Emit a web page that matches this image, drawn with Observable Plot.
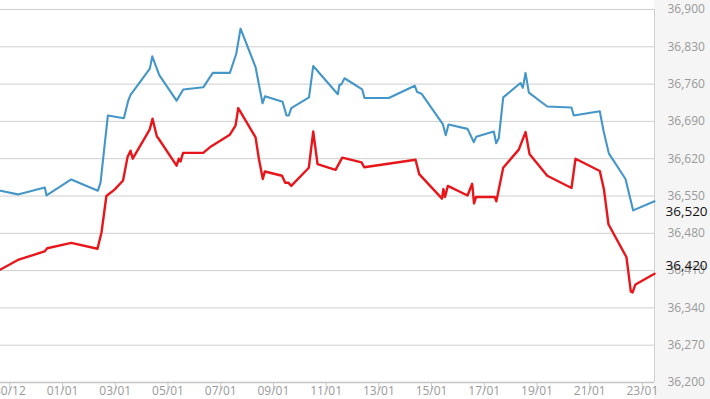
<!DOCTYPE html>
<html>
<head>
<meta charset="utf-8">
<script src="https://cdn.jsdelivr.net/npm/d3@7"></script>
<script src="https://cdn.jsdelivr.net/npm/@observablehq/plot@0.6"></script>
<style>
  html, body { margin: 0; padding: 0; background: #fff; }
  #chart svg { display: block; }
</style>
</head>
<body>
<div id="chart"></div>
<script>
// ---- data ----
const blueTime = ["2023-12-29 15:30","2023-12-30 07:20","2023-12-31 07:50","2023-12-31 09:25","2024-01-01 07:55","2024-01-02 08:10","2024-01-02 10:35","2024-01-02 17:15","2024-01-03 07:50","2024-01-03 11:50","2024-01-03 13:55","2024-01-04 07:30","2024-01-04 09:40","2024-01-04 16:05","2024-01-05 07:50","2024-01-05 13:55","2024-01-06 08:05","2024-01-06 16:50","2024-01-07 08:20","2024-01-07 14:10","2024-01-07 18:05","2024-01-08 07:45","2024-01-08 14:05","2024-01-08 16:20","2024-01-09 08:20","2024-01-09 11:55","2024-01-09 14:00","2024-01-09 16:15","2024-01-10 08:25","2024-01-10 12:15","2024-01-11 10:40","2024-01-11 12:10","2024-01-11 13:45","2024-01-11 16:45","2024-01-12 08:50","2024-01-12 11:00","2024-01-13 09:05","2024-01-14 08:40","2024-01-14 10:55","2024-01-14 14:50","2024-01-15 10:15","2024-01-15 12:55","2024-01-15 15:25","2024-01-16 08:45","2024-01-16 14:30","2024-01-16 16:40","2024-01-17 08:40","2024-01-17 10:50","2024-01-17 13:15","2024-01-17 17:15","2024-01-18 09:00","2024-01-18 11:05","2024-01-18 13:35","2024-01-18 16:35","2024-01-19 09:20","2024-01-20 07:25","2024-01-20 09:30","2024-01-21 09:10","2024-01-21 12:50","2024-01-21 17:25","2024-01-22 08:35","2024-01-22 15:35","2024-01-23 11:00"];
const blueValue = [36560,36553,36566,36551,36581,36560,36575,36701,36696,36729,36740,36789,36812,36777,36729,36750,36754,36781,36781,36817,36864,36792,36724,36737,36727,36701,36701,36715,36735,36794,36741,36759,36759,36771,36750,36734,36734,36757,36745,36742,36685,36664,36684,36676,36651,36661,36671,36649,36659,36735,36762,36753,36781,36744,36718,36716,36701,36709,36670,36630,36582,36523,36540];

const redTime = ["2023-12-29 15:30","2023-12-30 07:20","2023-12-31 07:35","2023-12-31 10:05","2024-01-01 07:55","2024-01-02 07:50","2024-01-02 11:30","2024-01-02 15:55","2024-01-02 23:20","2024-01-03 07:05","2024-01-03 11:10","2024-01-03 13:55","2024-01-03 15:55","2024-01-04 07:25","2024-01-04 09:55","2024-01-04 13:50","2024-01-04 15:40","2024-01-05 07:50","2024-01-05 09:55","2024-01-05 11:25","2024-01-05 13:45","2024-01-06 08:05","2024-01-06 15:10","2024-01-07 08:20","2024-01-07 13:30","2024-01-07 16:00","2024-01-08 07:45","2024-01-08 10:45","2024-01-08 14:20","2024-01-08 16:10","2024-01-09 07:50","2024-01-09 10:45","2024-01-09 13:35","2024-01-09 16:15","2024-01-10 08:15","2024-01-10 12:15","2024-01-10 16:10","2024-01-11 08:35","2024-01-11 14:40","2024-01-12 08:15","2024-01-12 10:40","2024-01-14 09:25","2024-01-14 12:45","2024-01-15 09:30","2024-01-15 10:45","2024-01-15 12:15","2024-01-15 14:50","2024-01-16 08:45","2024-01-16 13:00","2024-01-16 14:40","2024-01-16 16:30","2024-01-17 09:35","2024-01-17 11:00","2024-01-17 17:15","2024-01-18 07:25","2024-01-18 13:35","2024-01-18 17:10","2024-01-19 09:20","2024-01-20 07:25","2024-01-20 11:05","2024-01-21 09:10","2024-01-21 13:00","2024-01-21 17:05","2024-01-22 09:30","2024-01-22 13:25","2024-01-22 15:00","2024-01-22 17:40","2024-01-23 11:00"];
const redValue = [36412,36430,36446,36452,36462,36451,36482,36550,36562,36579,36623,36635,36620,36675,36695,36662,36657,36607,36620,36615,36631,36631,36643,36665,36682,36715,36660,36620,36582,36596,36588,36575,36575,36569,36603,36671,36610,36599,36622,36613,36604,36618,36591,36545,36563,36548,36569,36551,36573,36536,36548,36548,36540,36603,36637,36670,36629,36588,36565,36620,36597,36562,36497,36435,36371,36369,36384,36404];

const xTickDates = ["2023-12-30 00:00","2024-01-01 00:00","2024-01-03 00:00","2024-01-05 00:00","2024-01-07 00:00","2024-01-09 00:00","2024-01-11 00:00","2024-01-13 00:00","2024-01-15 00:00","2024-01-17 00:00","2024-01-19 00:00","2024-01-21 00:00","2024-01-23 00:00"];
const yTicks = [36200,36270,36340,36410,36480,36550,36620,36690,36760,36830,36900];
const xDomain = ["2023-12-29 15:30","2024-01-23 11:00"];
const yDomain = [36200, 36900];
const lastLabels = [36520, 36420];

// ---- build ----
const parse = d3.timeParse("%Y-%m-%d %H:%M");
const blue = blueTime.map((t, i) => ({t: parse(t), v: blueValue[i]}));
const red = redTime.map((t, i) => ({t: parse(t), v: redValue[i]}));
const xTicks = xTickDates.map(parse);
const xd = xDomain.map(parse);
const fmt = d3.format(",");

const chart = Plot.plot({
  width: 710,
  height: 399,
  marginLeft: 0,
  marginRight: 56,
  marginTop: 9,
  marginBottom: 17,
  style: {
    fontFamily: "'Open Sans', sans-serif",
    background: "linear-gradient(to right, #ffffff 654px, #f5f5f5 654px)",
    overflow: "hidden"
  },
  x: {type: "time", domain: xd, label: null},
  y: {domain: yDomain, label: null},
  marks: [
    Plot.gridY(yTicks, {stroke: "#cfcfcf", strokeOpacity: 1, strokeWidth: 1}),
    Plot.ruleY([yDomain[0]], {stroke: "#c4c4c4", strokeWidth: 1.5}),
    Plot.ruleX([xd[1]], {stroke: "#cfcfcf", strokeWidth: 1}),
    Plot.axisY(yTicks, {anchor: "right", label: null, tickSize: 0, tickPadding: 13, textAnchor: "start", fill: "#999", fontSize: 12, tickFormat: d => fmt(d)}),
    Plot.axisX(xTicks, {anchor: "bottom", label: null, tickSize: 8, tickPadding: -4, stroke: "#c8c8c8", fill: "#999", fontSize: 12, tickFormat: d3.timeFormat("%d/%m")}),
    Plot.line(blue, {x: "t", y: "v", stroke: "#4596c8", strokeWidth: 2.1, strokeLinejoin: "round"}),
    Plot.line(red, {x: "t", y: "v", stroke: "#e8161b", strokeWidth: 2.4, strokeLinejoin: "round"}),
    Plot.text(lastLabels, {x: () => xd[1], y: d => d, text: d => fmt(d), dx: 11, textAnchor: "start", fill: "#111", fontSize: 13.5})
  ]
});
document.getElementById("chart").appendChild(chart);
</script>
</body>
</html>
